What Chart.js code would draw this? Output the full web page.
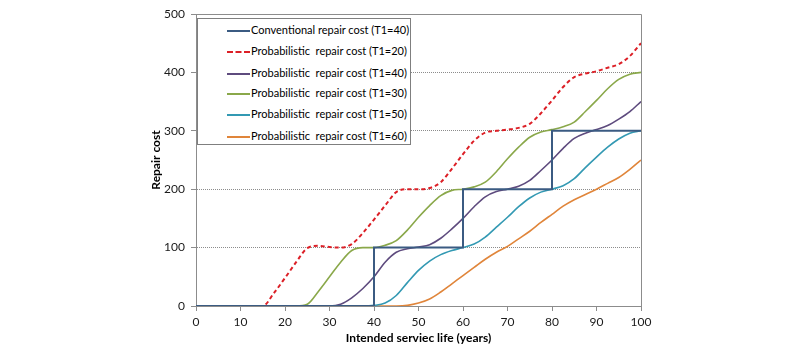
<!DOCTYPE html>
<html>
<head>
<meta charset="utf-8">
<script src="https://cdn.jsdelivr.net/npm/chart.js@4.4.0/dist/chart.umd.min.js"></script>
<style>
  html, body { margin: 0; padding: 0; background: #fff; }
  #wrap { position: relative; width: 800px; height: 352px; }
  #legend {
    position: absolute; left: 197px; top: 18px; width: 214px; height: 127px;
    border: 1px solid #7f7f7f; background: #fff; box-sizing: border-box;
    font-family: Lato, "Open Sans", sans-serif; font-size: 11px; color: #000;
  }
  .row { position: absolute; left: 29px; height: 14px; line-height: 14px; white-space: pre; }
  .swatch { display: inline-block; width: 23px; height: 0; vertical-align: middle; margin-right: 1px; }
</style>
</head>
<body>
<div id="wrap">
  <canvas id="chart" width="800" height="352"></canvas>
  <div id="legend"></div>
</div>
<script>
// conventional (step) repair schedule
const convYears = [0, 40, 60, 80, 100];
const convCost = [0, 100, 200, 300, 300];

// probabilistic curves, read every 2.5 years
const years = [0, 2.5, 5, 7.5, 10, 12.5, 15, 17.5, 20, 22.5, 25, 27.5, 30, 32.5, 35, 37.5, 40,
  42.5, 45, 47.5, 50, 52.5, 55, 57.5, 60, 62.5, 65, 67.5, 70, 72.5, 75, 77.5, 80, 82.5, 85, 87.5,
  90, 92.5, 95, 97.5, 100];
const costT20 = [0, 0, 0, 0, 0, 0, 0, 22, 48, 75, 99, 103, 101, 100, 106, 125, 148,
  172, 195, 200, 200, 202, 212, 235, 260, 283, 297, 300, 302, 305, 312, 330, 352, 375, 392, 398,
  402, 408, 414, 428, 450];
const costT40 = [0, 0, 0, 0, 0, 0, 0, 0, 0, 0, 0, 0, 0, 3, 14, 30, 50,
  75, 92, 98, 101, 105, 116, 132, 150, 170, 187, 196, 200, 205, 215, 232, 250, 270, 287, 296,
  302, 309, 320, 333, 350];
const costT30 = [0, 0, 0, 0, 0, 0, 0, 0, 0, 0, 3, 25, 50, 75, 95, 100, 100,
  104, 112, 130, 152, 172, 189, 198, 200, 204, 212, 230, 252, 272, 289, 298, 302, 307, 315, 333,
  352, 372, 388, 397, 400];
const costT50 = [0, 0, 0, 0, 0, 0, 0, 0, 0, 0, 0, 0, 0, 0, 0, 0, 1,
  5, 18, 40, 61, 77, 88, 95, 100, 106, 118, 135, 152, 170, 185, 195, 200, 206, 218, 237,
  255, 272, 286, 296, 300];
const costT60 = [0, 0, 0, 0, 0, 0, 0, 0, 0, 0, 0, 0, 0, 0, 0, 0, 0,
  0, 0, 1, 5, 12, 24, 38, 52, 66, 80, 92, 102, 115, 128, 143, 157, 171, 182, 191,
  200, 210, 220, 234, 250];

const xTicks = [0, 10, 20, 30, 40, 50, 60, 70, 80, 90, 100];
const yTicks = [0, 100, 200, 300, 400, 500];

function pts(xs, ys) {
  return xs.map((x, i) => ({ x: x, y: ys[i] }));
}

const series = [
  { label: 'Conventional repair cost (T1=40)', data: pts(convYears, convCost), color: '#3b5b82', dash: [], width: 2, stepped: 'before' },
  { label: 'Probabilistic  repair cost (T1=20)', data: pts(years, costT20), color: '#dc1f26', dash: [4, 3], width: 2 },
  { label: 'Probabilistic  repair cost (T1=40)', data: pts(years, costT40), color: '#5e4b7e', dash: [], width: 1.6 },
  { label: 'Probabilistic  repair cost (T1=30)', data: pts(years, costT30), color: '#8aa84a', dash: [], width: 1.6 },
  { label: 'Probabilistic  repair cost (T1=50)', data: pts(years, costT50), color: '#3399b3', dash: [], width: 1.6 },
  { label: 'Probabilistic  repair cost (T1=60)', data: pts(years, costT60), color: '#e0853a', dash: [], width: 1.6 }
];

// plot frame: top and right edge
const frame = {
  id: 'frame',
  beforeDatasetsDraw(c) {
    const a = c.chartArea, g = c.ctx;
    g.save();
    g.strokeStyle = '#8c8c8c';
    g.lineWidth = 1;
    g.beginPath();
    g.moveTo(a.left, a.top + 0.5);
    g.lineTo(a.right + 0.5, a.top + 0.5);
    g.lineTo(a.right + 0.5, a.bottom);
    g.stroke();
    g.restore();
  }
};

const tickFont = { family: 'Lato, "Open Sans", sans-serif', size: 12 };
const titleFont = { family: 'Lato, "Open Sans", sans-serif', size: 12, weight: 'bold' };

chart = new Chart(document.getElementById('chart').getContext('2d'), {
  type: 'line',
  data: {
    datasets: series.map(s => ({
      label: s.label,
      data: s.data,
      borderColor: s.color,
      borderDash: s.dash,
      borderWidth: s.width,
      stepped: s.stepped || false,
      cubicInterpolationMode: 'monotone',
      pointRadius: 0,
      fill: false
    }))
  },
  options: {
    responsive: false,
    animation: false,
    devicePixelRatio: 1,
    layout: { padding: { left: 145, right: 159, top: 14, bottom: 6 } },
    plugins: { legend: { display: false }, tooltip: { enabled: false } },
    scales: {
      x: {
        type: 'linear', min: 0, max: 100,
        afterBuildTicks: s => { s.ticks = xTicks.map(v => ({ value: v })); },
        afterFit: s => { s.height = 40; },
        grid: { drawOnChartArea: false, drawTicks: true, tickLength: 5, color: '#8c8c8c' },
        border: { color: '#8c8c8c' },
        ticks: { font: tickFont, color: '#1a1a1a', padding: 4, maxRotation: 0 },
        title: { display: true, text: 'Intended serviec life (years)', font: titleFont, color: '#000', padding: { top: 0, bottom: 1 } }
      },
      y: {
        type: 'linear', min: 0, max: 500,
        afterBuildTicks: s => { s.ticks = yTicks.map(v => ({ value: v })); },
        afterFit: s => { s.width = 51; },
        grid: {
          color: ctx => (ctx.tick && (ctx.tick.value === 0 || ctx.tick.value === 500)) ? 'rgba(0,0,0,0)' : '#8c8c8c',
          tickColor: '#8c8c8c', tickLength: 5
        },
        border: { color: '#8c8c8c', dash: [1, 1] },
        ticks: { font: tickFont, color: '#1a1a1a', padding: 6 },
        title: { display: true, text: 'Repair cost', font: titleFont, color: '#000', padding: { top: 4, bottom: 0 } }
      }
    }
  },
  plugins: [frame]
});

// legend box inside the plot, as in the original
const legend = document.getElementById('legend');
const rowTops = [4, 25, 47, 67, 88, 110];
series.forEach((s, i) => {
  const row = document.createElement('div');
  row.className = 'row';
  row.style.top = rowTops[i] + 'px';
  const sw = document.createElement('span');
  sw.className = 'swatch';
  sw.style.borderTop = (s.dash.length ? '2px dashed ' : '2px solid ') + s.color;
  row.appendChild(sw);
  row.appendChild(document.createTextNode(s.label));
  legend.appendChild(row);
});
</script>
</body>
</html>
